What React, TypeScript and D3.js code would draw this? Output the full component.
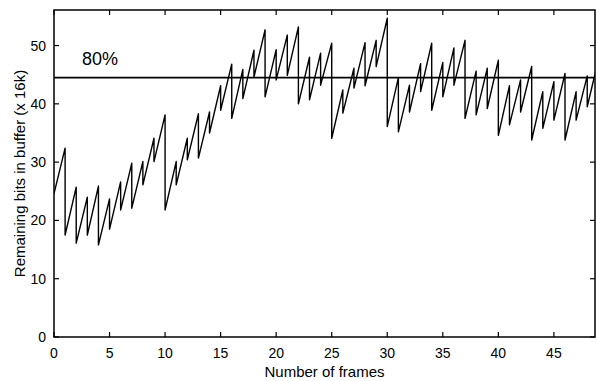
import React, { useRef, useEffect } from 'react';
import * as d3 from 'd3';

// frame index where the buffer is drained
const frames = [
  1, 2, 3, 4, 5, 6, 7, 8, 9, 10, 11, 12, 13, 14, 15, 16, 17, 18, 19, 20, 21, 22, 23, 24,
  25, 26, 27, 28, 29, 30, 31, 32, 33, 34, 35, 36, 37, 38, 39, 40, 41, 42, 43, 44, 45, 46, 47, 48,
];
// buffer level just before the frame is removed
const peaks = [
  32.4, 25.7, 24.0, 25.9, 23.7, 26.6, 29.8, 30.1, 34.1, 38.1, 30.1, 34.1, 38.3, 38.6, 43.1, 46.8,
  45.9, 49.2, 52.7, 49.3, 51.8, 53.2, 48.0, 48.7, 50.4, 42.4, 46.1, 50.5, 50.9, 54.7, 44.5, 43.2,
  46.9, 50.4, 47.1, 49.6, 50.9, 45.6, 46.1, 47.5, 43.1, 44.1, 46.4, 42.1, 43.8, 45.2, 42.1, 44.8,
];
// buffer level just after the frame is removed
const troughs = [
  17.5, 16.1, 17.5, 15.8, 18.5, 21.8, 22.1, 26.1, 30.1, 21.8, 26.1, 30.4, 30.7, 35.0, 38.9, 37.5,
  40.9, 44.6, 41.2, 44.1, 44.9, 40.0, 40.7, 43.2, 34.1, 38.4, 42.7, 43.1, 46.4, 36.1, 35.2, 38.6,
  42.1, 38.9, 41.2, 43.2, 37.5, 38.1, 39.2, 34.6, 36.4, 38.6, 33.8, 35.8, 37.2, 33.8, 37.2, 39.5,
];
const startLevel = 24.6;
const endFrame = 49;
const endLevel = 47.5;
const threshold = 44.5;

const xTicks = [0, 5, 10, 15, 20, 25, 30, 35, 40, 45];
const yTicks = [0, 10, 20, 30, 40, 50];

const App: React.FC = () => {
  const svgRef = useRef<SVGSVGElement | null>(null);

  useEffect(() => {
    const W = 596;
    const H = 381;
    const margin = { top: 10, right: 1, bottom: 44, left: 54 };
    const width = W - margin.left - margin.right;
    const height = H - margin.top - margin.bottom;
    const font = '"Liberation Sans", Arial, sans-serif';

    d3.select(svgRef.current).selectAll('*').remove();

    const svg = d3
      .select(svgRef.current)
      .attr('width', W)
      .attr('height', H)
      .append('g')
      .attr('transform', `translate(${margin.left},${margin.top})`);

    const x = d3.scaleLinear().domain([0, 48.7]).range([0, width]);
    const y = d3.scaleLinear().domain([0, 56.1]).range([height, 0]);

    svg
      .append('clipPath')
      .attr('id', 'plot-clip')
      .append('rect')
      .attr('width', width)
      .attr('height', height);

    // sawtooth: linear fill between frames, sudden drop at each frame
    const pts: [number, number][] = [[0, startLevel]];
    frames.forEach((f, i) => {
      pts.push([f, peaks[i]]);
      pts.push([f, troughs[i]]);
    });
    pts.push([endFrame, endLevel]);

    svg
      .append('path')
      .datum(pts)
      .attr('clip-path', 'url(#plot-clip)')
      .attr('fill', 'none')
      .attr('stroke', '#000')
      .attr('stroke-width', 1.4)
      .attr('stroke-linejoin', 'round')
      .attr(
        'd',
        d3
          .line<[number, number]>()
          .x((d) => x(d[0]))
          .y((d) => y(d[1]))
      );

    // 80% line
    svg
      .append('line')
      .attr('x1', 0)
      .attr('x2', width)
      .attr('y1', y(threshold))
      .attr('y2', y(threshold))
      .attr('stroke', '#000')
      .attr('stroke-width', 1.8);

    svg
      .append('text')
      .attr('x', 28)
      .attr('y', 55)
      .style('font-family', font)
      .style('font-size', '18px')
      .text('80%');

    // box with inward ticks on every side
    svg
      .append('rect')
      .attr('width', width)
      .attr('height', height)
      .attr('fill', 'none')
      .attr('stroke', '#000')
      .attr('stroke-width', 1.5);

    const tickLen = 5;
    const ticks = svg.append('g').attr('stroke', '#000').attr('stroke-width', 1.2);
    xTicks.forEach((t) => {
      ticks.append('line').attr('x1', x(t)).attr('x2', x(t)).attr('y1', height).attr('y2', height - tickLen);
      ticks.append('line').attr('x1', x(t)).attr('x2', x(t)).attr('y1', 0).attr('y2', tickLen);
    });
    yTicks.forEach((t) => {
      ticks.append('line').attr('x1', 0).attr('x2', tickLen).attr('y1', y(t)).attr('y2', y(t));
      ticks.append('line').attr('x1', width).attr('x2', width - tickLen).attr('y1', y(t)).attr('y2', y(t));
    });

    svg
      .append('g')
      .selectAll('text')
      .data(xTicks)
      .enter()
      .append('text')
      .attr('x', (d) => x(d))
      .attr('y', height + 21)
      .attr('text-anchor', 'middle')
      .style('font-family', font)
      .style('font-size', '14px')
      .text((d) => d);

    svg
      .append('g')
      .selectAll('text')
      .data(yTicks)
      .enter()
      .append('text')
      .attr('x', -8)
      .attr('y', (d) => y(d))
      .attr('dy', '0.36em')
      .attr('text-anchor', 'end')
      .style('font-family', font)
      .style('font-size', '14px')
      .text((d) => d);

    svg
      .append('text')
      .attr('x', width / 2)
      .attr('y', height + 40)
      .attr('text-anchor', 'middle')
      .style('font-family', font)
      .style('font-size', '15px')
      .text('Number of frames');

    svg
      .append('text')
      .attr('transform', 'rotate(-90)')
      .attr('x', -height / 2)
      .attr('y', -29)
      .attr('text-anchor', 'middle')
      .style('font-family', font)
      .style('font-size', '15px')
      .text('Remaining bits in buffer (x 16k)');
  }, []);

  return <svg ref={svgRef} style={{ position: 'absolute', left: 0, top: 0, background: '#fff' }}></svg>;
};

export default App;
